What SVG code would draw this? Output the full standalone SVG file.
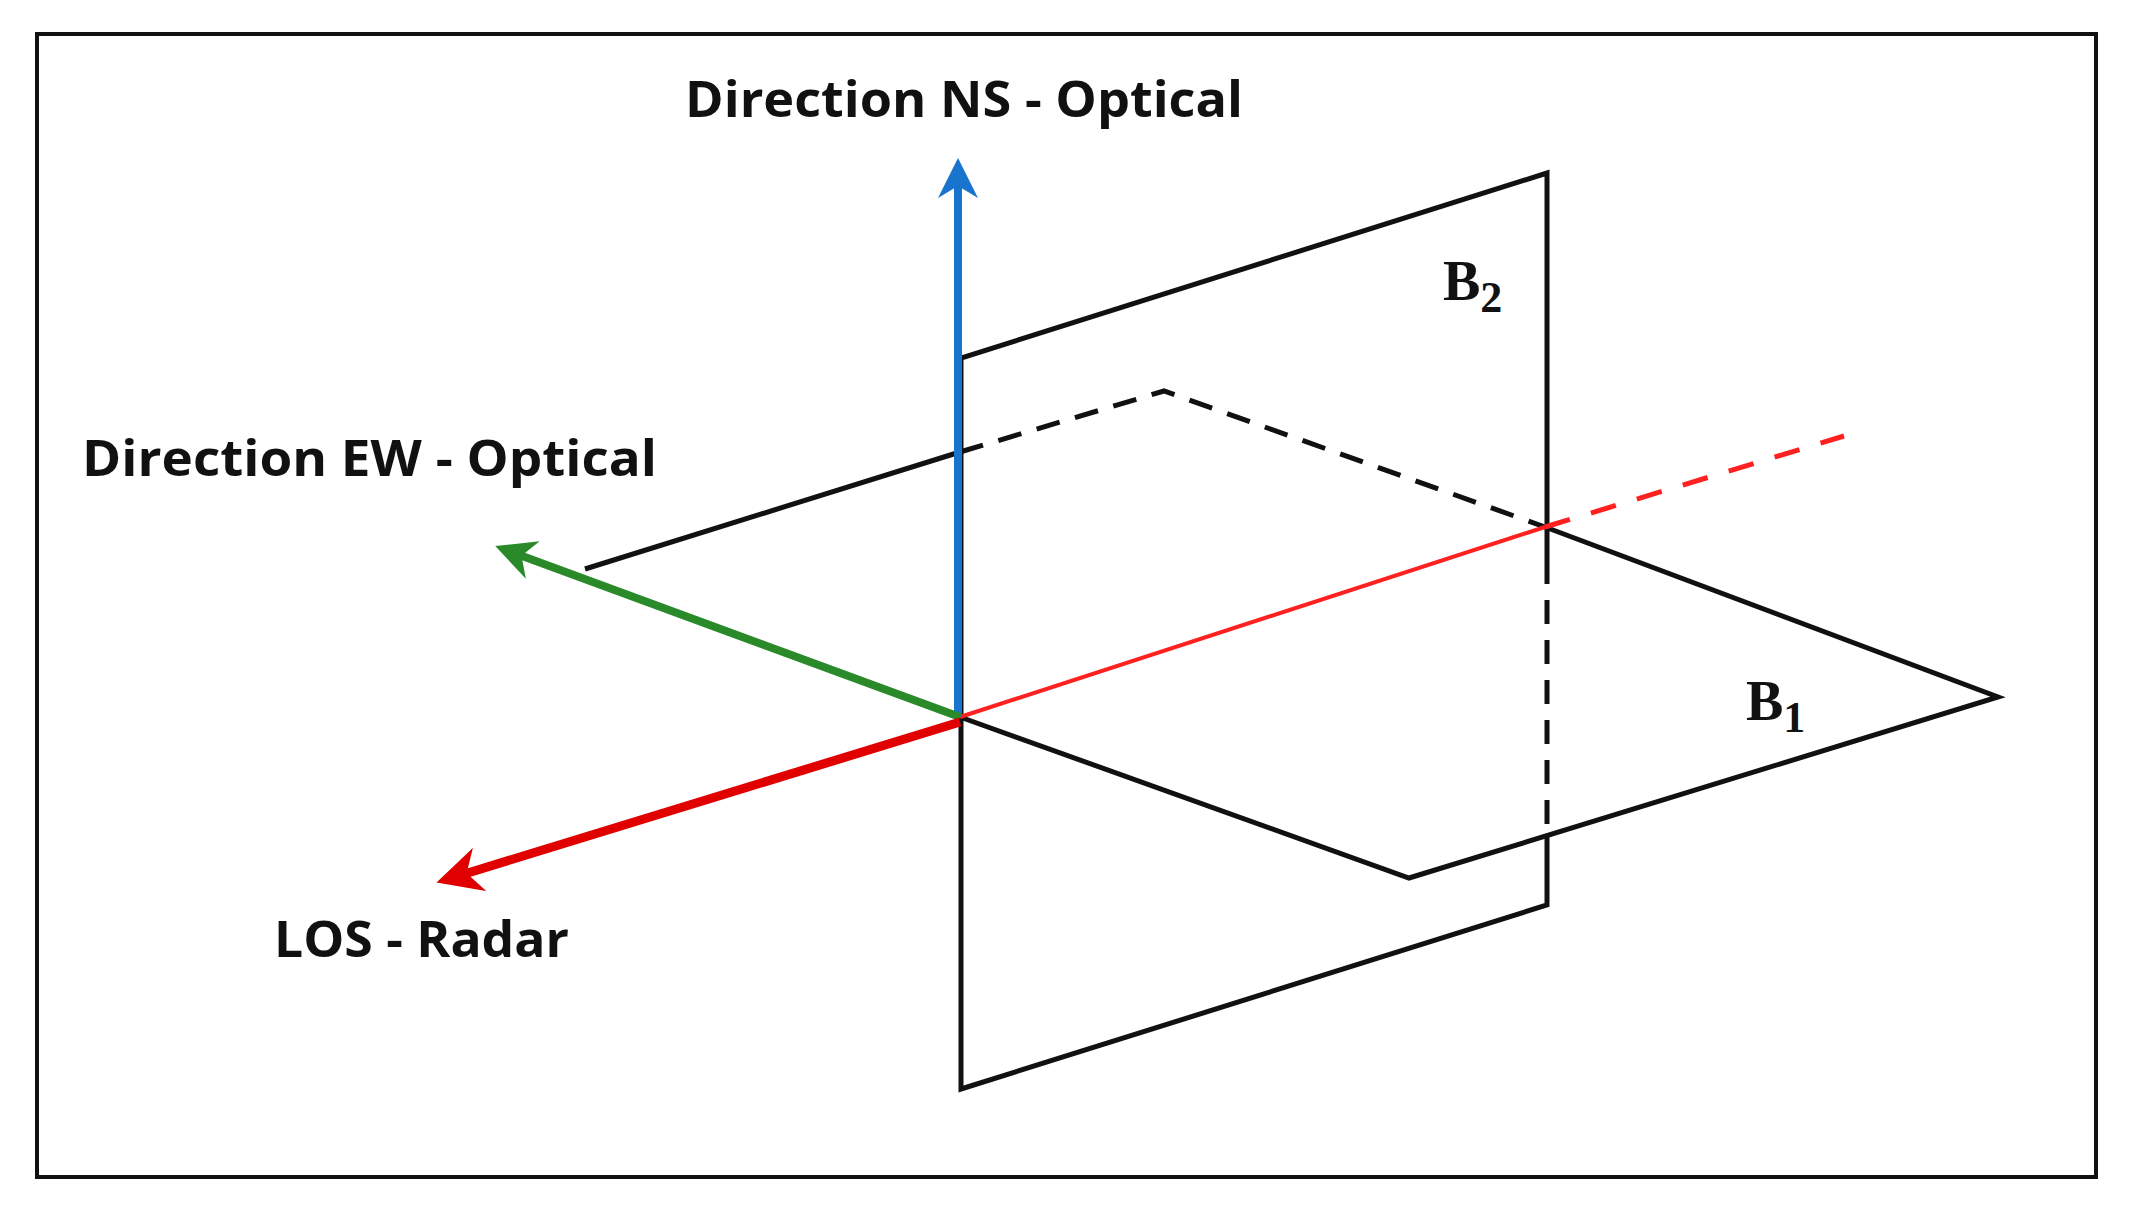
<svg xmlns="http://www.w3.org/2000/svg" width="2134" height="1216" viewBox="0 0 2134 1216">
<style>
.k{stroke:#111;stroke-width:5;fill:none;stroke-linejoin:miter}
.d{stroke-dasharray:24,16}
.lbl{font-family:"Open Sans","Liberation Sans",sans-serif;font-weight:bold;font-size:50px;fill:#111}
.b{font-family:"Liberation Serif",serif;font-weight:bold;font-size:56px;fill:#111}
</style>
<defs>
<marker id="ab" viewBox="0 0 10 10" refX="5" refY="5" markerWidth="5" markerHeight="5" orient="auto"><path d="M0,0L10,5L0,10L3,5z" fill="#1874cd"/></marker>
<marker id="ag" viewBox="0 0 10 10" refX="5" refY="5" markerWidth="5" markerHeight="5" orient="auto"><path d="M0,0L10,5L0,10L3,5z" fill="#2a8a2a"/></marker>
<marker id="ar" viewBox="0 0 10 10" refX="5" refY="5" markerWidth="5" markerHeight="5" orient="auto"><path d="M0,0L10,5L0,10L3,5z" fill="#e00000"/></marker>
</defs>
<rect x="37" y="34" width="2059" height="1143" fill="#fff" stroke="#111" stroke-width="4"/>
<g id="planeB2">
<path class="k" d="M961,717 V1089 L1547,905 V835 M1547,560 V173 L961,358 V717"/>
<path class="k d" d="M1547,560 V835"/>
</g>
<g id="planeB1">
<path class="k" d="M585,569 L960,452 M1545,527 L1998,697 L1409,878 L960,717"/>
<path class="k d" d="M960,452 L1164,391 L1545,527"/>
</g>
<g id="connectors">
<line x1="960" y1="717" x2="1545" y2="527" stroke="#ff2020" stroke-width="4"/>
<line x1="1545" y1="527" x2="1844" y2="436" stroke="#ff2020" stroke-width="5" stroke-dasharray="26,22"/>
<line x1="958" y1="717" x2="958" y2="178" stroke="#1874cd" stroke-width="8" marker-end="url(#ab)"/>
<line x1="960" y1="717" x2="514" y2="553" stroke="#2a8a2a" stroke-width="8" marker-end="url(#ag)"/>
<line x1="960" y1="722" x2="458" y2="876" stroke="#e00000" stroke-width="9" marker-end="url(#ar)"/>
</g>
<g id="labels">
<text class="lbl" x="964" y="117" text-anchor="middle" textLength="558" lengthAdjust="spacingAndGlyphs">Direction NS - Optical</text>
<text class="lbl" x="82" y="476" textLength="575" lengthAdjust="spacingAndGlyphs">Direction EW - Optical</text>
<text class="lbl" x="274" y="957" textLength="295" lengthAdjust="spacingAndGlyphs">LOS - Radar</text>
<text class="b" x="1443" y="300">B<tspan font-size="44" dy="12">2</tspan></text>
<text class="b" x="1746" y="720">B<tspan font-size="44" dy="12">1</tspan></text>
</g>
</svg>
